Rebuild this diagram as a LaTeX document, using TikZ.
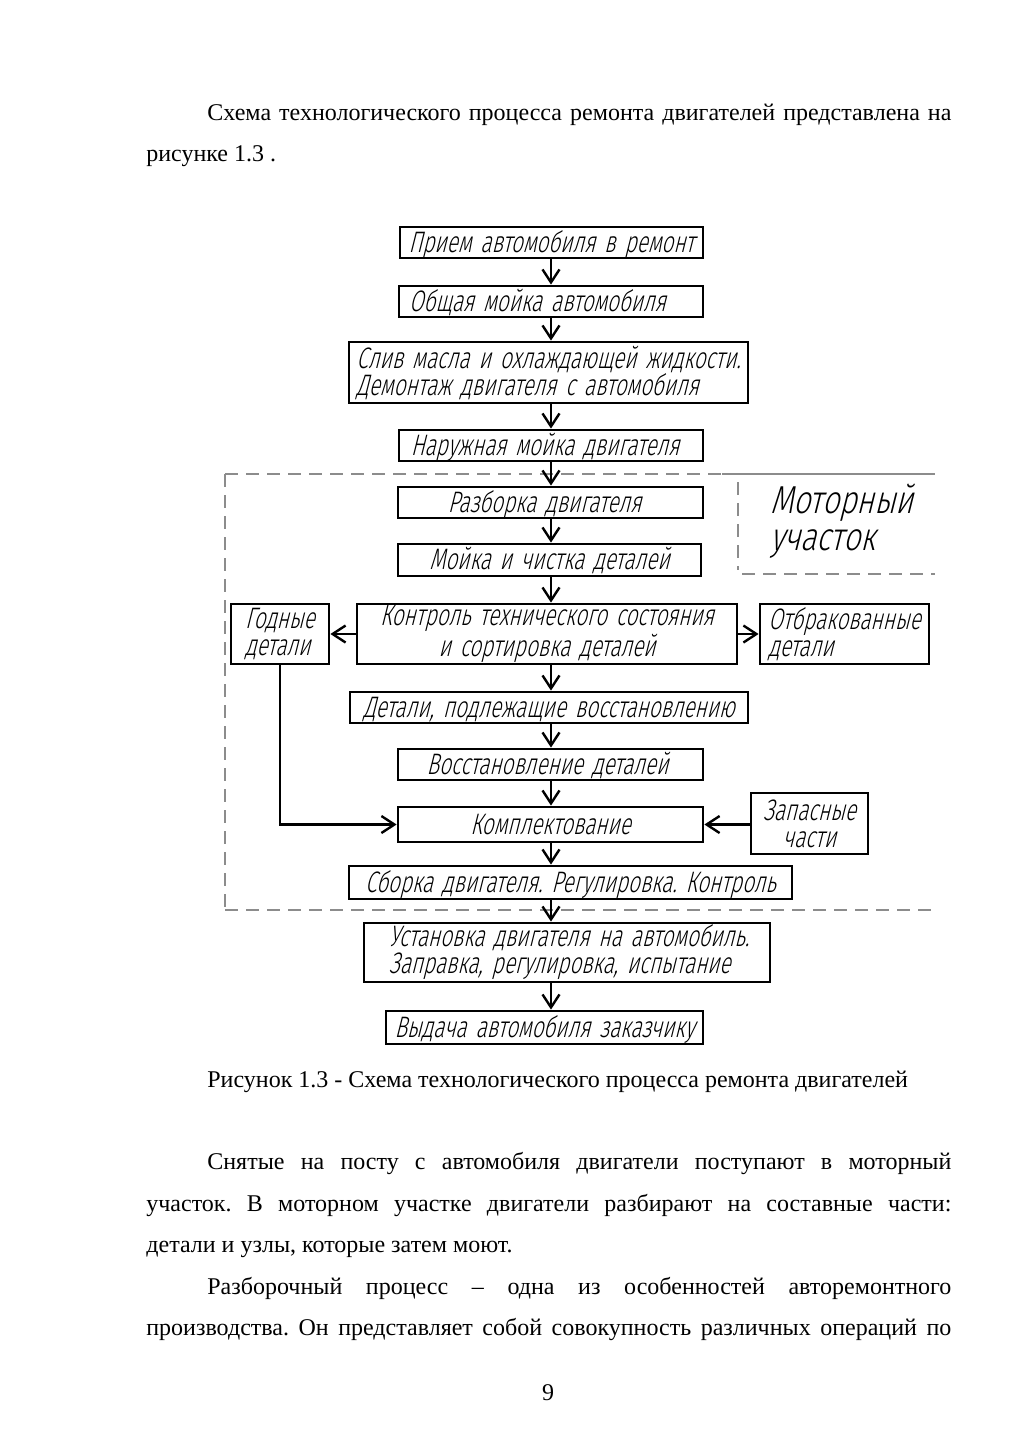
\documentclass[tikz,border=0pt]{standalone}
\usepackage{fontspec}
\setmainfont{Liberation Serif}
\newfontfamily\gost{Fira Sans Light}[FakeSlant=0.25,FakeStretch=0.70]
\newfontfamily\gostb{Fira Sans Light}[FakeSlant=0.25,FakeStretch=0.77]
\newcommand\gostfont{\gost\fontsize{14.8}{13.5}\selectfont\spaceskip=4.5pt plus 1pt minus 0.5pt\relax}
\usetikzlibrary{arrows.meta}
\frenchspacing
\begin{document}
\begin{tikzpicture}[x=0.5pt,y=-0.5pt,
  box/.style={draw,line width=1.4pt,inner sep=0pt,font=\gostfont},
  one/.style={text height=9.5pt,text depth=0pt},
  arr/.style={line width=1.2pt,-{Straight Barb[length=6.5pt,width=8.5pt]}},
  zone/.style={draw=black!45,line width=0.8pt,dash pattern=on 6.5pt off 4pt},
  zonesolid/.style={draw=black!45,line width=0.8pt},
  body/.style={font=\fontsize{12}{12}\selectfont,inner sep=0pt,anchor=base west},
  big/.style={font=\gostb\fontsize{19.5}{18}\selectfont,inner sep=0pt,anchor=base west}]
\useasboundingbox (0,0) rectangle (1024,1448);
\fill[white] (0,0) rectangle (1024,1448);

% body text
\node[body] (t1) at (207,120) {\makebox[372pt][s]{Схема технологического процесса ремонта двигателей представлена на}};
\node[body] (t2) at (146,161) {рисунке 1.3 .};
\node[body] (cap) at (207,1087) {Рисунок 1.3 - Схема технологического процесса ремонта двигателей};
\node[body] (p1) at (207,1169) {\makebox[372pt][s]{Снятые на посту с автомобиля двигатели поступают в моторный}};
\node[body] (p2) at (146,1211) {\makebox[402.5pt][s]{участок. В моторном участке двигатели разбирают на составные части:}};
\node[body] (p3) at (146,1252) {детали и узлы, которые затем моют.};
\node[body] (p4) at (207,1294) {\makebox[372pt][s]{Разборочный процесс – одна из особенностей авторемонтного}};
\node[body] (p5) at (146,1335) {\makebox[402.5pt][s]{производства. Он представляет собой совокупность различных операций по}};
\node[body,anchor=base] (pg) at (548,1400) {9};

% zone
\draw[zone] (225,474) -- (935,474);
\draw[zonesolid] (722,474) -- (935,474);
\draw[zone] (225,474) -- (225,910);
\draw[zone] (225,910) -- (935,910);
\draw[zone] (738,482) -- (738,570);
\draw[zone] (742,574) -- (935,574);
\node[big] (mz1) at (770,513) {Моторный};
\node[big] (mz2) at (770,550) {участок};

% boxes
\node[box,one,minimum width=151.5pt,minimum height=15.5pt] (b1) at (551.5,242.5) {Прием автомобиля в ремонт};
\node[box,one,minimum width=152pt,minimum height=15.5pt] (b2) at (551,301.5) {Общая мойка автомобиля\kern13.5pt};
\node[box,minimum width=199.5pt,minimum height=30.5pt,align=left] (b3) at (548.5,372.5) {Слив масла и охлаждающей жидкости.\\Демонтаж двигателя с автомобиля};
\node[box,one,minimum width=152pt,minimum height=15.5pt] (b4) at (551,445.5) {Наружная мойка двигателя\kern6pt};
\node[box,one,minimum width=152.5pt,minimum height=15.5pt] (b5) at (550.5,502.5) {Разборка двигателя\kern6pt};
\node[box,one,minimum width=151.5pt,minimum height=16pt] (b6) at (549.5,560) {Мойка и чистка деталей};
\node[box,minimum width=190pt,minimum height=30pt,align=center] (b7) at (547,634) {Контроль технического состояния\\и сортировка деталей};
\node[box,minimum width=49pt,minimum height=30pt,align=left] (g) at (280,634) {Годные\\детали};
\node[box,minimum width=84.5pt,minimum height=30pt,align=left] (o) at (844.5,634) {Отбракованные\\детали};
\node[box,one,minimum width=199pt,minimum height=15.5pt] (b8) at (549,707.5) {Детали, подлежащие восстановлению};
\node[box,one,minimum width=152.5pt,minimum height=15.5pt] (b9) at (550.5,764.5) {Восстановление деталей\kern3pt};
\node[box,one,minimum width=152.5pt,minimum height=17.5pt] (b10) at (550.5,824.5) {Комплектование};
\node[box,minimum width=58.5pt,minimum height=30.5pt,align=center] (z) at (809.5,823.5) {Запасные\\части};
\node[box,one,minimum width=221.5pt,minimum height=16.5pt] (b11) at (570.5,882.5) {Сборка двигателя. Регулировка. Контроль};
\node[box,minimum width=203pt,minimum height=29.5pt,align=left] (b12) at (567,952.5) {\hspace*{2pt}Установка двигателя на автомобиль.\\\hspace*{2pt}Заправка, регулировка, испытание};
\node[box,one,minimum width=158.5pt,minimum height=16.5pt] (b13) at (544.5,1027.5) {Выдача автомобиля заказчику};

% connectors
\coordinate (ax) at (551,0);
\foreach \a/\b in {b1/b2,b2/b3,b3/b4,b4/b5,b5/b6,b6/b7,b7/b8,b8/b9,b9/b10,b10/b11,b11/b12,b12/b13}
  \draw[arr] (ax |- \a.south) -- (ax |- \b.north);
\draw[arr] (b7.west) -- (g.east);
\draw[arr] (b7.east) -- (o.west);
\draw[arr] (g.south) |- (b10.west);
\draw[arr] (z.west |- b10.east) -- (b10.east);
\end{tikzpicture}
\end{document}
